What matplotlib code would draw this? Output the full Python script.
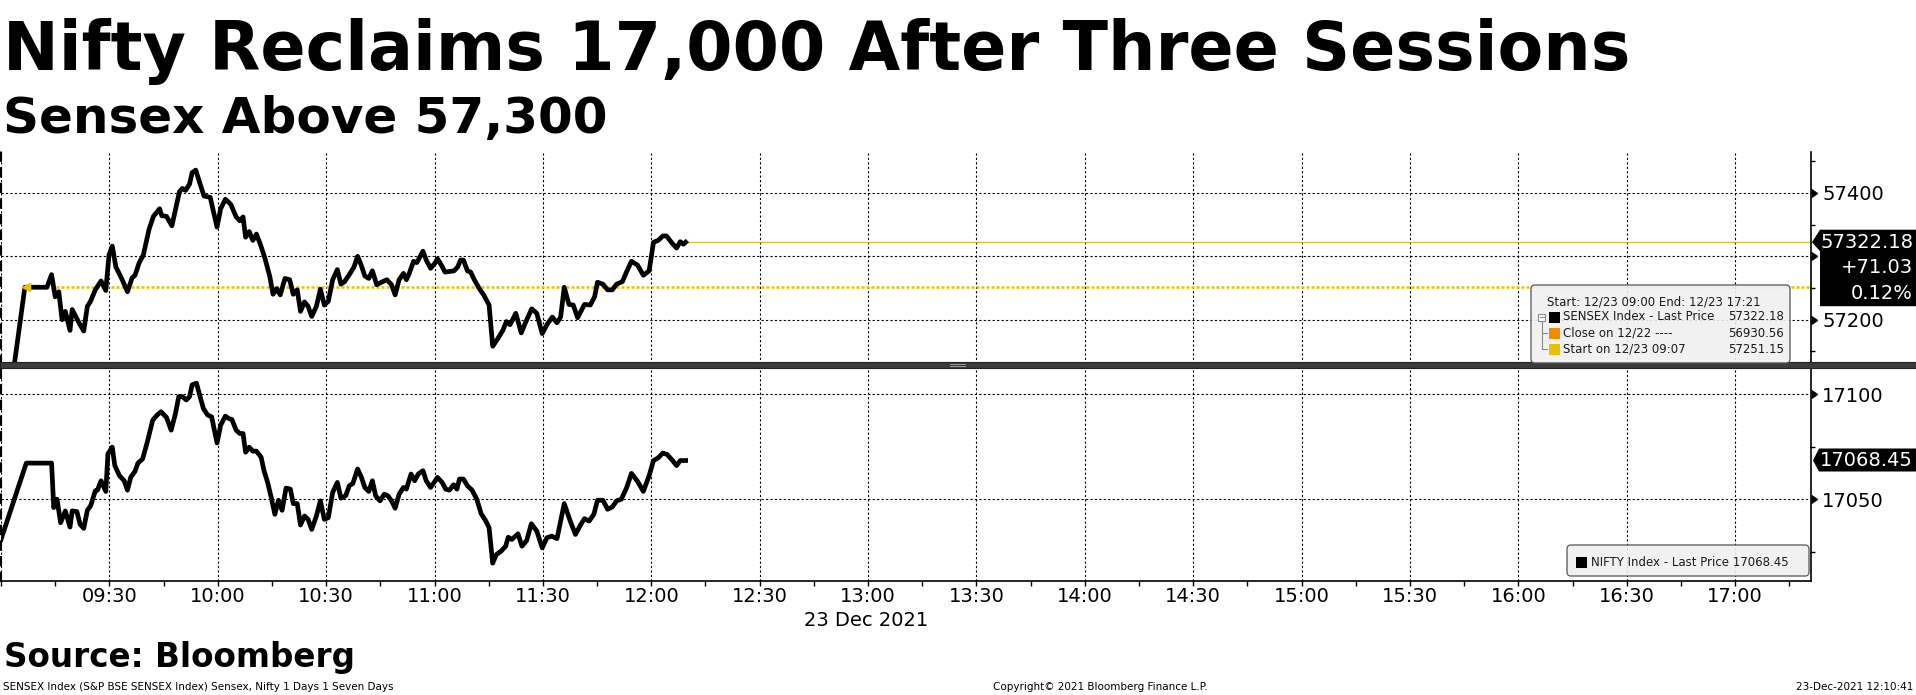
import numpy as np
import pandas as pd
import matplotlib
matplotlib.use("Agg")
import matplotlib.pyplot as plt
import matplotlib.dates as mdates
import matplotlib.transforms as mtransforms
from matplotlib.patches import Rectangle, FancyBboxPatch, Polygon
from matplotlib.lines import Line2D
from matplotlib.ticker import MultipleLocator, FuncFormatter

W, H = 1916, 695
OPEN = pd.Timestamp("2021-12-23 09:00")
END = pd.Timestamp("2021-12-23 17:21")

# minutes after 09:00 and index levels
sensex_min = [0, 6.6, 12.7, 14.0, 15.0, 16.0, 16.9, 17.8, 19.1, 19.7,
              21.4, 22.9, 23.9, 24.8, 26.1, 27.7, 29.0, 29.9, 30.8, 31.8,
              33.3, 35.0, 36.3, 37.1, 38.2, 39.4, 41.0, 42.2, 43.9, 44.5,
              45.8, 47.3, 49.4, 50.2, 51.1, 52.2, 52.9, 53.9, 55.0, 56.2,
              57.9, 59.8, 60.8, 62.1, 63.6, 65.1, 66.1, 67.0, 67.7, 68.7,
              69.7, 70.7, 71.9, 73.1, 74.4, 75.3, 76.3, 77.3, 78.6, 79.9,
              80.9, 82.0, 82.9, 84.0, 85.0, 86.0, 87.3, 88.4, 89.5, 90.6,
              91.8, 93.1, 94.1, 95.1, 96.4, 97.7, 98.7, 99.7, 100.7, 101.8,
              102.8, 104.0, 105.3, 106.8, 108.1, 109.1, 110.2, 111.4, 112.2, 113.0,
              114.2, 115.1, 116.8, 117.7, 118.9, 120.1, 120.8, 121.9, 122.9, 124.1,
              125.4, 126.4, 127.2, 128.0, 129.1, 130.0, 131.0, 132.5, 133.6, 135.1,
              136.1, 137.4, 138.9, 139.9, 140.9, 142.5, 144.0, 145.3, 146.9, 148.3,
              149.8, 151.1, 152.6, 153.9, 154.9, 155.9, 157.2, 158.4, 159.6, 161.5,
              163.1, 164.3, 165.1, 166.6, 167.9, 169.2, 170.4, 172.0, 173.2, 174.5,
              176.2, 177.8, 179.4, 180.6, 181.9, 183.2, 184.2, 185.7, 187.0, 188.0,
              188.9, 189.5]
sensex_val = [56975, 57251.15, 57251, 57271, 57236, 57244, 57200, 57213, 57183, 57216,
              57197, 57182, 57221, 57229, 57247, 57261, 57246, 57302, 57316, 57283,
              57266, 57244, 57266, 57270, 57289, 57302, 57343, 57363, 57375, 57364,
              57363, 57348, 57402, 57407, 57404, 57414, 57432, 57436, 57416, 57395,
              57393, 57346, 57375, 57390, 57382, 57362, 57356, 57362, 57330, 57339,
              57325, 57335, 57317, 57296, 57268, 57240, 57249, 57239, 57265, 57263,
              57240, 57247, 57213, 57228, 57221, 57205, 57221, 57248, 57223, 57229,
              57263, 57279, 57256, 57260, 57271, 57283, 57300, 57286, 57269, 57265,
              57277, 57255, 57259, 57263, 57255, 57239, 57263, 57273, 57263, 57273,
              57292, 57290, 57308, 57294, 57281, 57289, 57296, 57286, 57275, 57276,
              57277, 57283, 57294, 57294, 57277, 57275, 57263, 57248, 57239, 57223,
              57158, 57169, 57183, 57197, 57192, 57210, 57179, 57197, 57217, 57210,
              57178, 57192, 57204, 57195, 57204, 57251, 57224, 57223, 57203, 57224,
              57223, 57236, 57259, 57256, 57247, 57247, 57256, 57260, 57276, 57292,
              57286, 57270, 57277, 57322, 57325, 57332, 57332, 57321, 57313, 57323,
              57319, 57322.18]

nifty_min = [0, 7.0, 14.0, 14.6, 15.5, 16.5, 17.8, 19.1, 19.7, 21.0,
             21.9, 22.9, 23.9, 24.8, 26.1, 26.7, 27.7, 29.0, 29.6, 30.8,
             31.5, 32.8, 34.1, 35.0, 35.9, 37.1, 37.9, 39.2, 40.5, 42.0,
             43.2, 44.3, 45.8, 47.1, 48.3, 49.2, 50.2, 51.3, 52.2, 52.9,
             54.1, 55.0, 56.0, 57.2, 58.3, 59.8, 60.8, 62.1, 63.0, 63.9,
             65.1, 66.1, 67.0, 67.7, 68.7, 69.7, 70.7, 72.0, 72.8, 73.8,
             74.8, 75.8, 76.8, 77.8, 78.9, 80.1, 80.9, 82.0, 82.9, 84.0,
             85.0, 86.0, 87.3, 88.4, 89.5, 90.6, 91.8, 93.1, 94.1, 95.4,
             96.4, 97.4, 98.7, 99.7, 100.7, 101.8, 102.8, 103.7, 104.9, 106.1,
             107.1, 108.1, 109.1, 110.2, 111.4, 112.2, 113.5, 114.5, 115.5, 116.8,
             117.7, 118.9, 120.1, 120.8, 122.1, 123.1, 124.1, 125.3, 126.2, 126.9,
             128.0, 129.1, 130.4, 131.7, 132.9, 134.2, 135.1, 136.1, 137.1, 138.4,
             139.7, 140.4, 141.4, 143.1, 144.2, 145.5, 146.8, 148.3, 149.8, 151.1,
             152.4, 153.9, 154.9, 155.9, 157.5, 159.0, 160.5, 161.5, 162.8, 164.1,
             165.1, 166.6, 167.9, 169.2, 170.4, 171.7, 173.2, 174.5, 176.2, 177.8,
             179.4, 180.6, 181.9, 183.2, 184.4, 185.7, 187.0, 188.0, 189.5]
nifty_val = [17030.8, 17067.2, 17067.2, 17046.0, 17050.0, 17038.8, 17044.4, 17036.7, 17044.4, 17044.1,
             17038.0, 17036.1, 17044.7, 17046.8, 17054.0, 17054.3, 17058.8, 17053.7, 17071.6, 17074.8,
             17066.0, 17061.2, 17058.8, 17054.3, 17060.4, 17063.3, 17067.2, 17069.2, 17077.3, 17087.7,
             17090.1, 17091.7, 17089.0, 17082.9, 17090.9, 17098.9, 17098.9, 17097.3, 17098.9, 17104.5,
             17105.3, 17099.7, 17093.3, 17090.1, 17089.3, 17076.8, 17085.3, 17089.6, 17088.5, 17088.0,
             17082.9, 17081.3, 17081.3, 17072.4, 17074.8, 17072.9, 17072.9, 17070.0, 17063.6, 17058.0,
             17050.8, 17042.8, 17049.5, 17044.7, 17055.3, 17054.8, 17047.9, 17047.9, 17037.7, 17042.0,
             17040.4, 17035.6, 17042.0, 17049.2, 17040.4, 17041.2, 17053.2, 17058.0, 17050.5, 17051.6,
             17056.4, 17057.5, 17064.4, 17060.7, 17055.6, 17053.7, 17058.8, 17051.6, 17049.2, 17052.4,
             17051.6, 17049.2, 17045.7, 17052.4, 17055.6, 17054.8, 17062.0, 17058.8, 17062.0, 17063.6,
             17058.8, 17055.6, 17058.5, 17060.4, 17058.0, 17054.8, 17054.3, 17056.9, 17054.8, 17059.6,
             17059.6, 17056.4, 17054.3, 17050.0, 17043.1, 17039.6, 17036.4, 17019.5, 17023.6, 17025.2,
             17027.6, 17031.9, 17030.8, 17033.5, 17027.6, 17030.3, 17038.3, 17034.8, 17026.8, 17031.6,
             17032.4, 17031.2, 17039.6, 17047.9, 17039.9, 17033.2, 17038.0, 17040.7, 17039.6, 17042.8,
             17049.5, 17049.5, 17045.2, 17046.3, 17049.2, 17050.0, 17055.6, 17062.3, 17058.5, 17053.7,
             17061.2, 17068.4, 17069.7, 17072.0, 17071.3, 17068.8, 17066.0, 17068.4, 17068.45]

sensex_close = 56930.56
sensex_start = 57251.15
start_time = pd.Timestamp("2021-12-23 09:07")

BLACK = "#000000"
YELLOW = "#E8C000"
ORANGE = "#F08A00"
GRID = dict(color="black", lw=0.8, linestyle=(0, (2, 2)))


def fx(x):
    return x / W


def fy(y):
    return 1 - y / H


def times(mins):
    return (OPEN + pd.to_timedelta(mins, unit="m")).values


def fmt_time(v, pos):
    s = mdates.num2date(v).strftime("%H:%M")
    return "" if s == "09:00" else s


def fmt_level(last, gap):
    # labels hidden behind the last-value box are left out, as on the terminal
    return FuncFormatter(lambda v, pos: "" if abs(v - last) < gap else f"{v:.0f}")


fig = plt.figure(figsize=(W / 100, H / 100), dpi=100)
plt.rcParams["font.family"] = ["DejaVu Sans"]

ax1 = fig.add_axes([fx(1), fy(364), fx(1811) - fx(1), fy(152) - fy(364)])
ax2 = fig.add_axes([fx(1), fy(581), fx(1811) - fx(1), fy(366) - fy(581)])

for ax in (ax1, ax2):
    ax.set_xlim(OPEN, END)
    ax.xaxis.set_major_locator(mdates.MinuteLocator(byminute=[0, 30]))
    ax.xaxis.set_minor_locator(mdates.MinuteLocator(byminute=[15, 45]))
    ax.xaxis.set_major_formatter(FuncFormatter(fmt_time))
    ax.spines["top"].set_visible(False)
    ax.spines["left"].set_linestyle((0, (4, 3.5)))
    ax.spines["left"].set_linewidth(1.5)
    ax.spines["right"].set_linewidth(1.2)
    ax.yaxis.tick_right()
    ax.tick_params(axis="y", which="major", length=0, pad=8, labelsize=14)
    ax.tick_params(axis="y", which="minor", length=3, width=1, direction="out")
    ax.grid(True, which="major", **GRID)
    ax.set_axisbelow(True)

ax1.spines["bottom"].set_visible(False)
ax1.tick_params(axis="x", which="both", bottom=False, labelbottom=False)
ax2.spines["bottom"].set_linewidth(1.2)
ax2.tick_params(axis="x", which="both", length=3.5, width=1, pad=1, labelsize=14)

s_last = sensex_val[-1]
n_last = nifty_val[-1]

ax1.set_ylim(57130, 57464.5)
ax1.yaxis.set_major_locator(MultipleLocator(100))
ax1.yaxis.set_minor_locator(MultipleLocator(50))
ax1.yaxis.set_major_formatter(fmt_level(s_last, 40))
ax2.set_ylim(17011, 17113.5)
ax2.yaxis.set_major_locator(MultipleLocator(50))
ax2.yaxis.set_minor_locator(MultipleLocator(25))
ax2.yaxis.set_major_formatter(fmt_level(n_last, 5))

# Sensex panel
s_t = times(sensex_min)
ax1.plot([start_time, END], [sensex_start, sensex_start], color=YELLOW,
         lw=1.8, linestyle=(0, (1.2, 0.8)), zorder=2)
ax1.plot([s_t[-1], END.to_datetime64()], [s_last, s_last], color="#D8BC20", lw=0.9, zorder=2)
ax1.plot(s_t, sensex_val, color=BLACK, lw=3.4, solid_joinstyle="round", zorder=3)
ax1.plot([start_time], [sensex_start], marker="<", color=YELLOW, ms=6, zorder=4)

# Nifty panel
ax2.plot(times(nifty_min), nifty_val, color=BLACK, lw=3.4, solid_joinstyle="round", zorder=3)

# arrow heads on the major y ticks
for ax in (ax1, ax2):
    lo, hi = ax.get_ylim()
    for t in ax.get_yticks():
        if lo <= t <= hi:
            ax.plot(1, t, marker=9, ms=6, color=BLACK, transform=ax.get_yaxis_transform(),
                    clip_on=False, zorder=5)

# panel separator
fig.add_artist(Rectangle((0, fy(368)), 1, 6 / H, transform=fig.transFigure,
                         facecolor="#3c3c3c", edgecolor="#222222", lw=0.8, zorder=6))
for yy in (364.3, 366.3):
    fig.add_artist(Line2D([fx(950), fx(965)], [fy(yy), fy(yy)], color="#9a9a9a", lw=0.7, zorder=7))


def y_pix(ax, v):
    return H - ax.get_yaxis_transform().transform((1, v))[1]


# last value boxes
chg = s_last - sensex_start
pct = chg / sensex_start * 100
yv = y_pix(ax1, s_last)
pts = [(1812, yv), (1820, yv - 12.5), (1916, yv - 12.5), (1916, yv + 64),
       (1820, yv + 64), (1820, yv + 9)]
fig.add_artist(Polygon([(fx(a), fy(b)) for a, b in pts], closed=True,
                       transform=fig.transFigure, facecolor=BLACK, edgecolor="none", zorder=8))
for k, txt in enumerate([f"{s_last:.2f}", f"{chg:+.2f}", f"{pct:.2f}%"]):
    fig.text(fx(1913), fy(yv + 25.5 * k), txt, color="white", fontsize=14,
             ha="right", va="center", zorder=9)

yn = y_pix(ax2, n_last)
pts = [(1813, yn), (1819, yn - 12), (1916, yn - 12), (1916, yn + 11), (1819, yn + 11)]
fig.add_artist(Polygon([(fx(a), fy(b)) for a, b in pts], closed=True,
                       transform=fig.transFigure, facecolor=BLACK, edgecolor="none", zorder=8))
fig.text(fx(1913), fy(yn), f"{n_last:.2f}", color="white", fontsize=14,
         ha="right", va="center", zorder=9)

# legends
PX = mtransforms.IdentityTransform()
fig.add_artist(FancyBboxPatch((1531, H - 363), 259, 78, boxstyle="round,pad=0,rounding_size=4",
                              transform=PX, facecolor="#f0f0f0", edgecolor="#555555",
                              lw=1, alpha=0.9, zorder=8))
LG = dict(fontsize=8.5, color="#1a1a1a", va="center", zorder=9)
fig.text(fx(1547), fy(301.5), "Start: 12/23 09:00 End: 12/23 17:21", **LG)
rows = [("SENSEX Index - Last Price", s_last, BLACK),
        ("Close on 12/22 ----", sensex_close, ORANGE),
        ("Start on 12/23 09:07", sensex_start, YELLOW)]
for k, (lab, val, col) in enumerate(rows):
    yy = 317 + 16.2 * k
    fig.add_artist(Rectangle((1549, H - yy - 5.5), 11, 11, transform=PX,
                             facecolor=col, edgecolor="none", zorder=9))
    fig.text(fx(1563), fy(yy), lab, **LG)
    fig.text(fx(1784), fy(yy), f"{val:.2f}", ha="right", **LG)
# tree connector
fig.add_artist(Rectangle((1538, H - 320.5), 7, 7, transform=PX, facecolor="white",
                         edgecolor="#888888", lw=0.8, zorder=9))
fig.add_artist(Line2D([1539.5, 1543.5], [H - 317, H - 317], transform=PX, color="#888888", lw=0.8, zorder=10))
fig.add_artist(Line2D([1541.5, 1541.5, 1547], [H - 321, H - 349.4, H - 349.4], transform=PX,
                      color="#888888", lw=0.8, zorder=9))
fig.add_artist(Line2D([1541.5, 1547], [H - 333.2, H - 333.2], transform=PX,
                      color="#888888", lw=0.8, zorder=9))

fig.add_artist(FancyBboxPatch((1567, H - 576), 242, 31, boxstyle="round,pad=0,rounding_size=4",
                              transform=PX, facecolor="#f0f0f0", edgecolor="#555555",
                              lw=1, alpha=0.9, zorder=8))
fig.add_artist(Rectangle((1576, H - 562.5 - 5.5), 11, 11, transform=PX,
                         facecolor=BLACK, edgecolor="none", zorder=9))
fig.text(fx(1591), fy(562.5), f"NIFTY Index - Last Price {n_last:.2f}", **LG)

# titles and footer
fig.text(fx(3), fy(70), "Nifty Reclaims 17,000 After Three Sessions", fontsize=48,
         fontweight="bold", va="baseline")
fig.text(fx(3), fy(133), "Sensex Above 57,300", fontsize=36, fontweight="bold", va="baseline")
fig.text(fx(866), fy(620), "23 Dec 2021", fontsize=14, ha="center", va="center")
fig.text(fx(4), fy(667), "Source: Bloomberg", fontsize=23.5, fontweight="bold", va="baseline")
fig.text(fx(3), fy(687), "SENSEX Index (S&P BSE SENSEX Index) Sensex, Nifty 1 Days 1 Seven Days",
         fontsize=7.5, va="center")
fig.text(fx(993), fy(687), "Copyright\u00a9 2021 Bloomberg Finance L.P.", fontsize=7.5, va="center")
fig.text(fx(1913), fy(687), "23-Dec-2021 12:10:41", fontsize=7.5, va="center", ha="right")

fig.savefig("out.png", dpi=100)
